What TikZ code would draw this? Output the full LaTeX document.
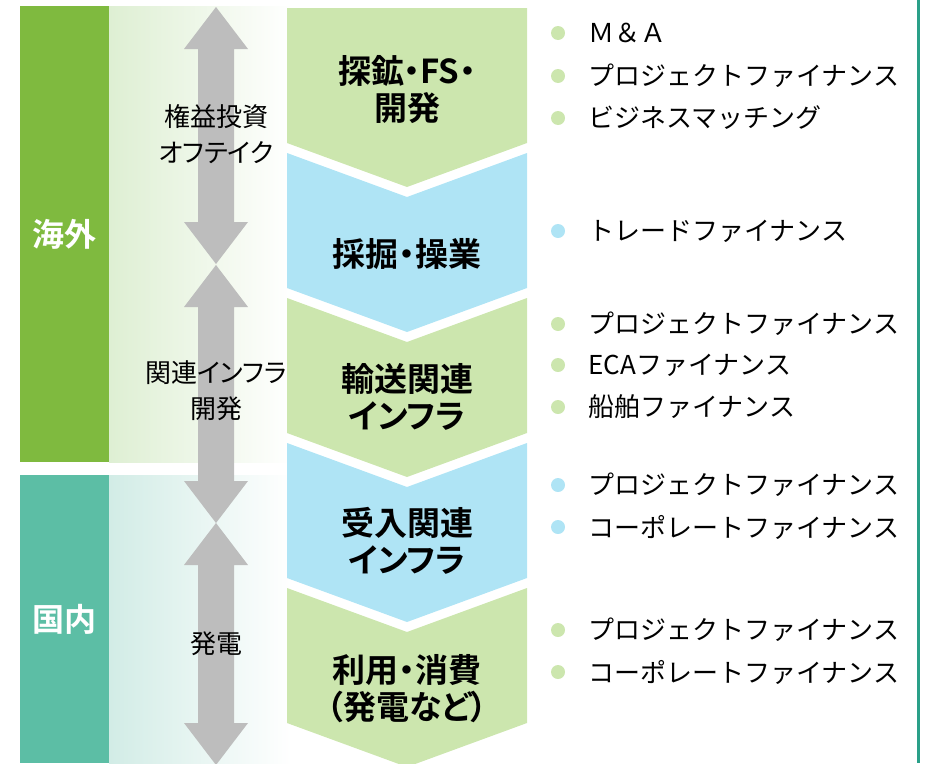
\documentclass[tikz,border=0pt]{standalone}
\usepackage{fontspec}
\setmainfont{Noto Sans CJK JP}[BoldFont={Noto Sans CJK JP Bold}]
\newfontfamily\jpp{Noto Sans CJK JP}[BoldFont={Noto Sans CJK JP Bold}, RawFeature=+palt]
\usetikzlibrary{positioning}
\definecolor{kaigai}{RGB}{127, 186, 63}
\definecolor{kokunai}{RGB}{92, 190, 165}
\definecolor{kaigaiL}{RGB}{222, 239, 211}
\definecolor{kokunaiL}{RGB}{210, 236, 230}
\definecolor{chevG}{RGB}{204, 230, 174}
\definecolor{chevB}{RGB}{175, 228, 245}
\definecolor{arrowgray}{RGB}{189, 189, 189}
\definecolor{edgeteal}{RGB}{42, 160, 137}

\begin{document}
\begin{tikzpicture}[x=1pt, y=-1pt,
  band/.style={fill=#1, text=white, minimum width=89pt, inner sep=0pt, font=\fontsize{32}{36}\selectfont\bfseries},
  stage/.style={align=center, inner sep=0pt, font=\jpp\fontsize{33}{37}\selectfont\bfseries},
  role/.style={align=center, inner sep=0pt, font=\jpp\fontsize{26}{36}\selectfont},
  dot/.style={circle, fill=#1, minimum size=14pt, inner sep=0pt},
  item/.style={inner sep=0pt, font=\fontsize{26}{30}\selectfont},
]
  \useasboundingbox (0,0) rectangle (928,763);

  \shade[left color=kaigaiL, right color=white] (109,6) rectangle (292,462);
  \shade[left color=kokunaiL, right color=white] (109,475) rectangle (292,763);
  \node[band=kaigai, minimum height=456pt] (kaigai) at (64.5,234) {海外};
  \node[band=kokunai, minimum height=288pt] (kokunai) at (64.5,619) {国内};

  \foreach \a/\b in {7/264, 265/523, 523/765} {
    \fill[arrowgray] (216,\a) -- (248,\a+42) -- (234,\a+42) -- (234,\b-42) -- (248,\b-42)
      -- (216,\b) -- (184,\b-42) -- (198,\b-42) -- (198,\a+42) -- (184,\a+42) -- cycle;
  }
  \node[role] (r1) at (216,134) {権益投資\\オフテイク};
  \node[role] (r2) at (216,391) {関連インフラ\\開発};
  \node[role] (r3) at (216,644) {発電};

  \fill[chevG] (287,8) -- (527,8) -- (527,143) -- (407,187) -- (287,143) -- cycle;
  \foreach \i/\c in {1/chevB, 2/chevG, 3/chevB, 4/chevG} {
    \pgfmathsetmacro{\T}{8+145*\i}
    \fill[\c] (287,\T) -- (407,\T+44) -- (527,\T) -- (527,\T+135) -- (407,\T+179) -- (287,\T+135) -- cycle;
  }
  \node[stage] (s1) at (407,90) {探鉱・FS・\\開発};
  \node[stage] (s2) at (407,254) {採掘・操業};
  \node[stage] (s3) at (407,397) {輸送関連\\インフラ};
  \node[stage] (s4) at (407,541) {受入関連\\インフラ};
  \node[stage] (s5) at (407,689) {利用・消費\\（発電など）};

  \foreach \y/\c/\t [count=\k] in {33/chevG/Ｍ＆Ａ, 76/chevG/プロジェクトファイナンス,
      118/chevG/ビジネスマッチング, 231/chevB/トレードファイナンス,
      324/chevG/プロジェクトファイナンス, 365/chevG/ECAファイナンス, 407/chevG/船舶ファイナンス,
      485/chevB/プロジェクトファイナンス, 527/chevB/コーポレートファイナンス,
      630/chevG/プロジェクトファイナンス, 672/chevG/コーポレートファイナンス} {
    \node[dot=\c] (b\k) at (558,\y) {};
    \node[item, right=23pt of b\k] (t\k) {\t};
  }

  \draw[edgeteal, line width=3pt] (918,0) -- (918,763);
\end{tikzpicture}
\end{document}
